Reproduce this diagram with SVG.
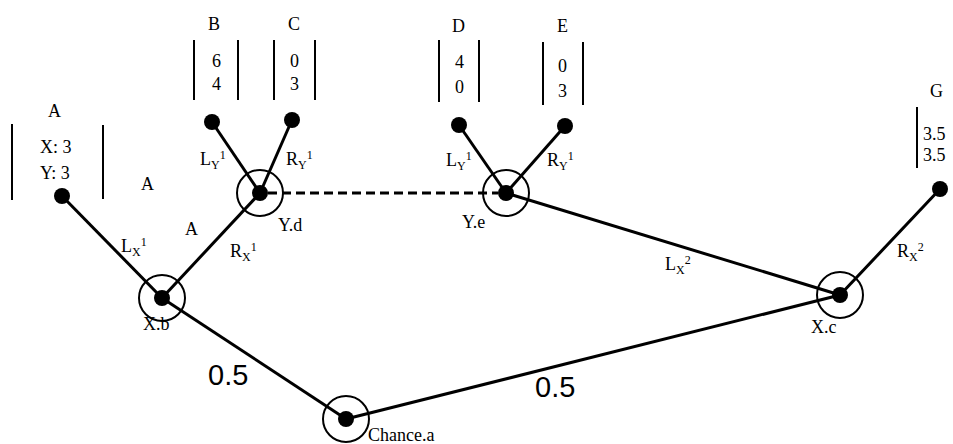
<svg xmlns="http://www.w3.org/2000/svg" width="953" height="444" viewBox="0 0 953 444">
  <style>
    .edge { stroke: #000; stroke-width: 3; fill: none; }
    .dash { stroke: #000; stroke-width: 3; fill: none; stroke-dasharray: 9 5; }
    .ring { stroke: #000; stroke-width: 2; fill: none; }
    .dot { fill: #000; }
    .bar { stroke: #000; stroke-width: 2; }
    .t { font-family: "Liberation Serif", "Times New Roman", serif; font-size: 18px; fill: #000; }
    .s { font-size: 12px; }
    .p { font-family: "Liberation Sans", Arial, sans-serif; font-size: 29px; fill: #000; }
  </style>

  <!-- connectors -->
  <g id="connectors">
    <line class="edge" x1="62" y1="196" x2="162" y2="298"/>
    <line class="edge" x1="162" y1="298" x2="260" y2="193"/>
    <line class="edge" x1="162" y1="298" x2="346" y2="419"/>
    <line class="edge" x1="346" y1="419" x2="840" y2="295"/>
    <line class="edge" x1="260" y1="193" x2="212" y2="122"/>
    <line class="edge" x1="260" y1="193" x2="292" y2="120"/>
    <line class="edge" x1="506" y1="193" x2="459" y2="125"/>
    <line class="edge" x1="506" y1="193" x2="565" y2="126"/>
    <line class="edge" x1="506" y1="193" x2="840" y2="295"/>
    <line class="edge" x1="840" y1="295" x2="940" y2="189"/>
    <line class="dash" x1="268" y1="193" x2="498" y2="193"/>

    <!-- branch labels -->
    <text class="t" x="121" y="252">L<tspan class="s" dy="4">X</tspan><tspan class="s" dy="-10">1</tspan></text>
    <text class="t" x="230" y="257">R<tspan class="s" dy="4">X</tspan><tspan class="s" dy="-10">1</tspan></text>
    <text class="t" x="200" y="165">L<tspan class="s" dy="4">Y</tspan><tspan class="s" dy="-10">1</tspan></text>
    <text class="t" x="286" y="165">R<tspan class="s" dy="4">Y</tspan><tspan class="s" dy="-10">1</tspan></text>
    <text class="t" x="446" y="166">L<tspan class="s" dy="4">Y</tspan><tspan class="s" dy="-10">1</tspan></text>
    <text class="t" x="547" y="166">R<tspan class="s" dy="4">Y</tspan><tspan class="s" dy="-10">1</tspan></text>
    <text class="t" x="665" y="270">L<tspan class="s" dy="4">X</tspan><tspan class="s" dy="-10">2</tspan></text>
    <text class="t" x="897" y="257">R<tspan class="s" dy="4">X</tspan><tspan class="s" dy="-10">2</tspan></text>
    <text class="p" x="208" y="385">0.5</text>
    <text class="p" x="535" y="397">0.5</text>
  </g>

  <!-- decision / chance nodes -->
  <g id="chance-a">
    <circle class="ring" cx="346" cy="419" r="23"/>
    <circle class="dot" cx="346" cy="419" r="8"/>
    <text class="t" x="368" y="441">Chance.a</text>
  </g>
  <g id="x-b">
    <circle class="ring" cx="162" cy="298" r="23"/>
    <circle class="dot" cx="162" cy="298" r="8"/>
    <text class="t" x="143" y="330">X.b</text>
  </g>
  <g id="x-c">
    <circle class="ring" cx="840" cy="295" r="23"/>
    <circle class="dot" cx="840" cy="295" r="8"/>
    <text class="t" x="811" y="333">X.c</text>
  </g>
  <g id="y-d">
    <circle class="ring" cx="260" cy="193" r="23"/>
    <circle class="dot" cx="260" cy="193" r="8"/>
    <text class="t" x="278" y="231">Y.d</text>
  </g>
  <g id="y-e">
    <circle class="ring" cx="506" cy="193" r="23"/>
    <circle class="dot" cx="506" cy="193" r="8"/>
    <text class="t" x="462" y="228">Y.e</text>
  </g>

  <!-- terminal nodes with payoffs -->
  <g id="leaf-a">
    <circle class="dot" cx="62" cy="196" r="8"/>
    <text class="t" x="48" y="117">A</text>
    <line class="bar" x1="12" y1="124" x2="12" y2="200"/>
    <line class="bar" x1="103" y1="125" x2="103" y2="199"/>
    <text class="t" x="40" y="153">X: 3</text>
    <text class="t" x="40" y="179">Y: 3</text>
    <text class="t" x="141" y="190">A</text>
    <text class="t" x="185" y="235">A</text>
  </g>
  <g id="leaf-b">
    <circle class="dot" cx="212" cy="122" r="8"/>
    <text class="t" x="208" y="30">B</text>
    <line class="bar" x1="194" y1="40" x2="194" y2="100"/>
    <line class="bar" x1="238" y1="40" x2="238" y2="100"/>
    <text class="t" x="212" y="67">6</text>
    <text class="t" x="212" y="90">4</text>
  </g>
  <g id="leaf-c">
    <circle class="dot" cx="292" cy="120" r="8"/>
    <text class="t" x="288" y="30">C</text>
    <line class="bar" x1="274" y1="40" x2="274" y2="100"/>
    <line class="bar" x1="315" y1="40" x2="315" y2="100"/>
    <text class="t" x="290" y="67">0</text>
    <text class="t" x="290" y="90">3</text>
  </g>
  <g id="leaf-d">
    <circle class="dot" cx="459" cy="125" r="8"/>
    <text class="t" x="452" y="32">D</text>
    <line class="bar" x1="439" y1="40" x2="439" y2="102"/>
    <line class="bar" x1="479" y1="40" x2="479" y2="102"/>
    <text class="t" x="455" y="68">4</text>
    <text class="t" x="455" y="93">0</text>
  </g>
  <g id="leaf-e">
    <circle class="dot" cx="565" cy="126" r="8"/>
    <text class="t" x="557" y="32">E</text>
    <line class="bar" x1="543" y1="42" x2="543" y2="105"/>
    <line class="bar" x1="583" y1="42" x2="583" y2="105"/>
    <text class="t" x="558" y="72">0</text>
    <text class="t" x="558" y="97">3</text>
  </g>
  <g id="leaf-g">
    <circle class="dot" cx="940" cy="189" r="8"/>
    <text class="t" x="930" y="97">G</text>
    <line class="bar" x1="917" y1="107" x2="917" y2="168"/>
    <text class="t" x="923" y="140">3.5</text>
    <text class="t" x="923" y="161">3.5</text>
  </g>
</svg>
